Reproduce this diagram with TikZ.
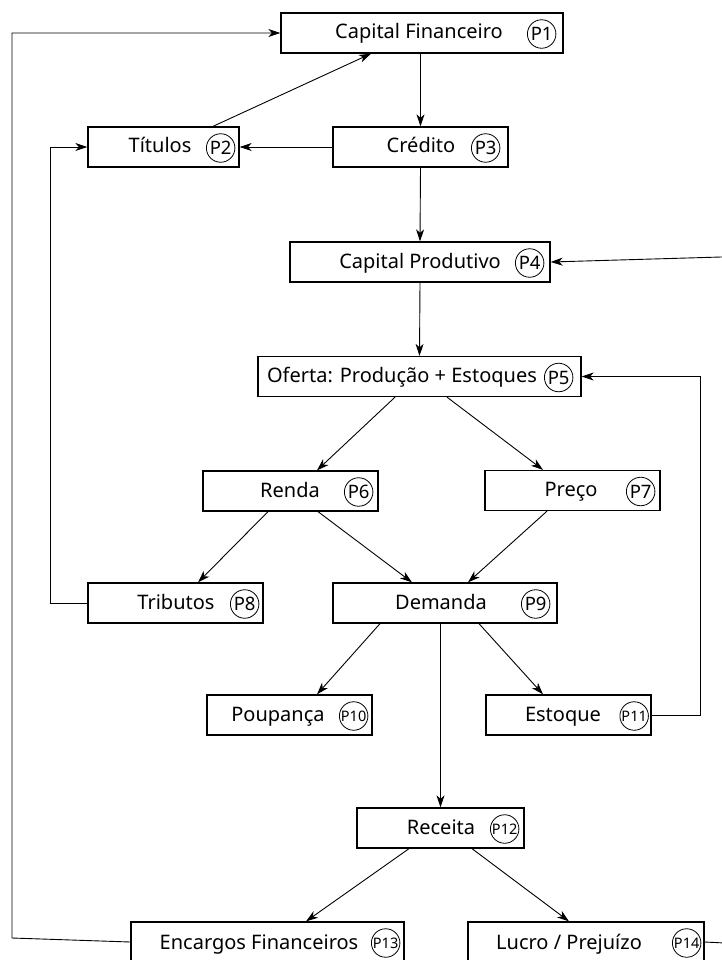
\documentclass[tikz,border=0pt]{standalone}
\usepackage{fontspec}
\setmainfont{Noto Sans}
\usetikzlibrary{arrows.meta,calc}

\tikzset{
  box/.style={draw, line width=1.3pt, minimum height=40pt, inner sep=0pt, fill=white},
  lbl/.style={inner sep=0pt, anchor=base, font=\fontsize{20}{24}\selectfont},
  tag/.style={draw, circle, line width=0.8pt, inner sep=0pt, minimum size=28.5pt, font=\fontsize{18.5}{22}\selectfont},
  smalltag/.style={tag, font=\fontsize{14.5}{17}\selectfont},
  arr/.style={line width=0.9pt, -{Stealth[length=12pt, width=8pt, inset=3.5pt]}},
}

\begin{document}
\begin{tikzpicture}[x=1pt, y=-1pt]
\useasboundingbox (0,0) rectangle (722,960);
\clip (0,0) rectangle (722,960);

% boxes
\node[box, minimum width=282pt] (p1)  at (422,33)    {};
\node[box, minimum width=151pt] (p2)  at (163.5,147) {};
\node[box, minimum width=175pt] (p3)  at (420.5,147) {};
\node[box, minimum width=260pt] (p4)  at (420,262)   {};
\node[box, minimum width=323pt] (p5)  at (419.5,376.5) {};
\node[box, minimum width=175pt] (p6)  at (290.5,491) {};
\node[box, minimum width=175pt] (p7)  at (572.5,490.5) {};
\node[box, minimum width=175pt] (p8)  at (175.5,603) {};
\node[box, minimum width=224pt] (p9)  at (445,603)   {};
\node[box, minimum width=165pt] (p10) at (289.5,715) {};
\node[box, minimum width=165pt] (p11) at (568.5,715) {};
\node[box, minimum width=167pt] (p12) at (440.5,828) {};
\node[box, minimum width=273pt] (p13) at (267.5,942) {};
\node[box, minimum width=236pt] (p14) at (586,942)   {};

% texts (baseline positions)
\node[lbl] (t1)  at (419,39)    {Capital Financeiro};
\node[lbl] (t2)  at (160,153)   {Títulos};
\node[lbl] (t3)  at (421,153)   {Crédito};
\node[lbl] (t4)  at (420,268)   {Capital Produtivo};
\node[lbl] (t5)  at (402,382.5) {Oferta: Produção + Estoques};
\node[lbl] (t6)  at (290,497)   {Renda};
\node[lbl] (t7)  at (571,496.5) {Preço};
\node[lbl] (t8)  at (176,609)   {Tributos};
\node[lbl] (t9)  at (441,609)   {Demanda};
\node[lbl] (t10) at (278,721)   {Poupança};
\node[lbl] (t11) at (563,721)   {Estoque};
\node[lbl] (t12) at (441,834)   {Receita};
\node[lbl] (t13) at (259,949.5) {Encargos Financeiros};
\node[lbl] (t14) at (569,949.5) {Lucro / Prejuízo};

% circled tags
\node[tag]      (c1)  at ([xshift=-22pt, yshift=-1pt]p1.east)  {P1};
\node[tag]      (c2)  at ([xshift=-19pt, yshift=-1pt]p2.east)  {P2};
\node[tag]      (c3)  at ([xshift=-23pt, yshift=-1pt]p3.east)  {P3};
\node[tag]      (c4)  at ([xshift=-21pt, yshift=-1pt]p4.east)  {P4};
\node[tag]      (c5)  at ([xshift=-23pt, yshift=-1pt]p5.east)  {P5};
\node[tag]      (c6)  at ([xshift=-20pt, yshift=-1pt]p6.east)  {P6};
\node[tag]      (c7)  at ([xshift=-20pt, yshift=-1pt]p7.east)  {P7};
\node[tag]      (c8)  at ([xshift=-19pt, yshift=-1pt]p8.east)  {P8};
\node[tag]      (c9)  at ([xshift=-22pt, yshift=-1pt]p9.east)  {P9};
\node[smalltag] (c10) at ([xshift=-19pt, yshift=-1pt]p10.east) {P10};
\node[smalltag] (c11) at ([xshift=-17.5pt, yshift=-1pt]p11.east) {P11};
\node[smalltag] (c12) at ([xshift=-20pt, yshift=-1pt]p12.east) {P12};
\node[smalltag] (c13) at ([xshift=-19pt, yshift=-1pt]p13.east) {P13};
\node[smalltag] (c14) at ([xshift=-18pt, yshift=-1pt]p14.east) {P14};

% bend points of the feedback loops
\coordinate (l1) at (12,938);
\coordinate (l2) at (12,33);
\coordinate (k1) at (50,603);
\coordinate (e1) at (700,715);
\coordinate (r1) at (735,943.5);
\coordinate (r2) at (735,256.6);

% main flow
\draw[arr] (p3.north |- p1.south) -- (p3.north);
\draw[arr] ([xshift=49.5pt]p2.north) -- ([xshift=-51pt]p1.south);
\draw[arr] (p3.west) -- (p2.east);
\draw[arr] (p3.south) -- (p4.north);
\draw[arr] (p4.south) -- (p5.north);
\draw[arr] ([xshift=-24.5pt]p5.south) -- ([xshift=26.5pt]p6.north);
\draw[arr] ([xshift=27.5pt]p5.south) -- ([xshift=-29.5pt]p7.north);
\draw[arr] ([xshift=-22.5pt]p6.south) -- ([xshift=22.5pt]p8.north);
\draw[arr] ([xshift=27.5pt]p6.south) -- ([xshift=-33pt]p9.north);
\draw[arr] ([xshift=-25.5pt]p7.south) -- ([xshift=23pt]p9.north);
\draw[arr] ([xshift=-65pt]p9.south) -- ([xshift=27.5pt]p10.north);
\draw[arr] ([xshift=34pt]p9.south) -- ([xshift=-25.5pt]p11.north);
\draw[arr] (p12.north |- p9.south) -- (p12.north);
\draw[arr] ([xshift=-31.5pt]p12.south) -- ([xshift=38.5pt]p13.north);
\draw[arr] ([xshift=31.5pt]p12.south) -- ([xshift=-17pt]p14.north);

% feedback loops
\draw[arr] (p8.west) -- (k1) |- (p2.west);
\draw[arr] (p11.east) -- (e1) |- (p5.east);
\draw[arr] (p13.west) -- (l1) -- (l2) -- (p1.west);
\draw[arr] (p14.east) -- (r1) -- (r2) -- (p4.east);
\end{tikzpicture}
\end{document}
